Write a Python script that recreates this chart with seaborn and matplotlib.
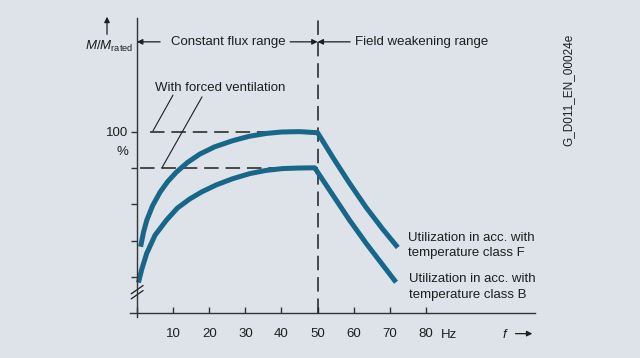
import numpy as np
import pandas as pd
import seaborn as sns
import matplotlib.pyplot as plt

# values (f in Hz, torque in % of rated)
f_class_f = [1.0, 1.8, 2.7, 4.3, 6.4, 8.5, 10.9, 14.0, 17.4, 21.5, 26.5, 31.0, 35.8, 40.0, 45.0, 50.0,
             54.2, 58.8, 63.4, 68.0, 72.2]
m_class_f = [68.3, 72.3, 75.6, 79.6, 83.4, 86.3, 88.9, 91.6, 93.9, 95.9, 97.6, 98.8, 99.6, 100.0, 100.1, 99.8,
             93.0, 85.9, 79.2, 73.2, 68.1]
f_class_b = [0.4, 1.3, 2.7, 5.0, 8.2, 11.2, 14.6, 18.0, 22.0, 26.5, 31.2, 35.8, 40.4, 45.0, 49.2,
             54.2, 58.8, 63.4, 68.0, 71.7]
m_class_b = [58.4, 62.0, 66.5, 71.5, 75.7, 79.0, 81.5, 83.5, 85.4, 87.1, 88.5, 89.4, 89.9, 90.05, 90.1,
             82.6, 75.7, 69.3, 63.3, 58.5]

x_ticks = [0, 10, 20, 30, 40, 50, 60, 70, 80]
x_labels = ['', '10', '20', '30', '40', '50', '60', '70', '80']
y_ticks = [60, 70, 80, 90, 100]
y_labels = ['', '', '', '', '100']

f_rated = 50
m_rated = 100
m_class_b_plateau = 90

bg = '#dde3e8'
teal = '#17678a'
ink = '#1e1e1e'
fs = 9.5

sns.set_theme(style='white', rc={'axes.facecolor': bg, 'figure.facecolor': bg})
plt.rcParams['font.family'] = ['Liberation Sans', 'DejaVu Sans']
plt.rcParams['mathtext.fontset'] = 'custom'
plt.rcParams['mathtext.rm'] = 'Liberation Sans'
plt.rcParams['mathtext.it'] = 'Liberation Sans:italic'

df = pd.concat([
    pd.DataFrame({'f': f_class_f, 'm': m_class_f, 'cls': 'F'}),
    pd.DataFrame({'f': f_class_b, 'm': m_class_b, 'cls': 'B'}),
])

fig = plt.figure(figsize=(6.4, 3.58), dpi=100)
ax = fig.add_axes([0, 0, 1, 1])
ax.set_xlim(-37.92, 139.24)
ax.set_ylim(37.57, 136.46)

# reference lines
dash = (0, (9.5, 4.5))
ax.axvline(f_rated, ymin=(50 - 37.57) / 98.89, ymax=(131.5 - 37.57) / 98.89,
           color=ink, lw=1.1, ls=dash)
ax.plot([3.6, f_rated], [m_rated, m_rated], color=ink, lw=1.1, ls=dash)
ax.plot([0.8, f_rated], [m_class_b_plateau, m_class_b_plateau], color=ink, lw=1.1, ls=dash)

for cls in ['F', 'B']:
    sub = df[df['cls'] == cls]
    sns.lineplot(data=sub, x='f', y='m', ax=ax, color=teal, lw=3.6, sort=False,
                 solid_capstyle='butt', solid_joinstyle='round', legend=False)

# axes
for s in ['top', 'right']:
    ax.spines[s].set_visible(False)
ax.spines['left'].set_position(('data', 0))
ax.spines['left'].set_bounds(48.9, 131.5)
ax.spines['bottom'].set_position(('data', 50))
ax.spines['bottom'].set_bounds(-1.9, 110.2)
for s in ['left', 'bottom']:
    ax.spines[s].set_color('#333333')
    ax.spines[s].set_linewidth(1.0)

ax.set_xticks(x_ticks)
ax.set_xticklabels(x_labels)
ax.set_yticks(y_ticks)
ax.set_yticklabels(y_labels)
ax.tick_params(axis='x', bottom=True, direction='in', length=4.5, width=1.0, color='#333333',
               pad=10.5, labelsize=fs, labelcolor=ink)
ax.tick_params(axis='y', left=True, direction='out', length=4.5, width=1.0, color='#333333',
               pad=2, labelsize=fs, labelcolor=ink)
ax.set_xlabel('')
ax.set_ylabel('')

# axis break marks
for dy in [0, 1.4]:
    ax.plot([-1.6, 1.7], [53.9 + dy, 56.2 + dy], color=ink, lw=0.9)

ax.text(-4.15, 94.5, '%', ha='center', va='center', fontsize=fs, color=ink)
ax.text(-7.6, 123.6, r'$M/M_{\mathrm{rated}}$', ha='center', va='center', fontsize=fs, color=ink)
ax.annotate('', xy=(-8.3, 132.6), xytext=(-8.3, 126.2),
            arrowprops=dict(arrowstyle='-|>', lw=0.9, color=ink, mutation_scale=8))

ax.text(86.4, 44.0, 'Hz', ha='center', va='center', fontsize=fs, color=ink)
ax.text(101.9, 44.0, '$f$', ha='center', va='center', fontsize=fs, color=ink)
ax.annotate('', xy=(110.2, 44.3), xytext=(104.0, 44.3),
            arrowprops=dict(arrowstyle='-|>', lw=0.9, color=ink, mutation_scale=8))

# ranges
ax.text(25.2, 124.9, 'Constant flux range', ha='center', va='center', fontsize=fs, color=ink)
ax.annotate('', xy=(0, 124.9), xytext=(6.4, 124.9),
            arrowprops=dict(arrowstyle='-|>', lw=0.9, color=ink, mutation_scale=8, shrinkA=0, shrinkB=0))
ax.annotate('', xy=(f_rated, 124.9), xytext=(42.4, 124.9),
            arrowprops=dict(arrowstyle='-|>', lw=0.9, color=ink, mutation_scale=8, shrinkA=0, shrinkB=0))
ax.annotate('', xy=(f_rated, 124.9), xytext=(59.0, 124.9),
            arrowprops=dict(arrowstyle='-|>', lw=0.9, color=ink, mutation_scale=8, shrinkA=0, shrinkB=0))
ax.text(60.3, 124.9, 'Field weakening range', ha='left', va='center', fontsize=fs, color=ink)

# forced ventilation leaders
ax.text(23.0, 112.2, 'With forced ventilation', ha='center', va='center', fontsize=fs, color=ink)
ax.plot([9.97, 4.43], [110.2, 100.3], color=ink, lw=0.8)
ax.plot([18.0, 6.9], [109.7, 90.1], color=ink, lw=0.8)

ax.text(75.0, 68.6, 'Utilization in acc. with\ntemperature class F', ha='left', va='center',
        fontsize=fs, color=ink, linespacing=1.35)
ax.text(75.3, 57.2, 'Utilization in acc. with\ntemperature class B', ha='left', va='center',
        fontsize=fs, color=ink, linespacing=1.35)

ax.text(119.3, 111.6, 'G_D011_EN_00024e', rotation=90, ha='center', va='center',
        fontsize=8.5, color=ink)

fig.savefig('out.png', dpi=100, facecolor=bg)
